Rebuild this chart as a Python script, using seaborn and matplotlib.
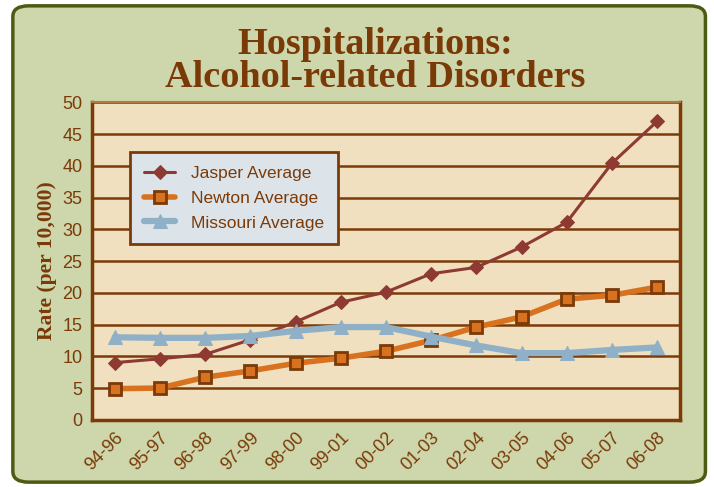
import pandas as pd
import numpy as np
import matplotlib.pyplot as plt
import seaborn as sns
from matplotlib.patches import FancyBboxPatch

# datos
periodos = ['94-96', '95-97', '96-98', '97-99', '98-00', '99-01', '00-02',
            '01-03', '02-04', '03-05', '04-06', '05-07', '06-08']
jasper = [9.0, 9.6, 10.3, 12.6, 15.4, 18.5, 20.1, 23.0, 24.0, 27.2, 31.1, 40.4, 47.0]
newton = [4.9, 5.0, 6.7, 7.7, 8.9, 9.7, 10.8, 12.5, 14.6, 16.2, 19.0, 19.6, 20.9]
missouri = [13.0, 12.9, 12.9, 13.2, 14.0, 14.6, 14.6, 13.1, 11.7, 10.5, 10.5, 11.0, 11.4]

marron = '#7B3A08'
fondo = '#CED6AC'

df = pd.DataFrame({
    'x': list(range(len(periodos))) * 3,
    'valor': jasper + newton + missouri,
    'serie': ['Jasper Average'] * 13 + ['Newton Average'] * 13 + ['Missouri Average'] * 13,
})

sns.set_style('white')
plt.rcParams['font.family'] = ['Liberation Sans', 'DejaVu Sans']

fig = plt.figure(figsize=(7.14, 4.87), dpi=100)
fig.patch.set_facecolor('white')

# marco verde redondeado
marco = FancyBboxPatch((0.018, 0.01), 0.97, 0.978, boxstyle='round,pad=0,rounding_size=0.022',
                       transform=fig.transFigure, facecolor=fondo, edgecolor='#4C5B12',
                       linewidth=2.5, zorder=-10)
fig.patches.append(marco)

ax = fig.add_axes([0.129, 0.138, 0.823, 0.652])
ax.set_facecolor('#F0E0BF')

estilos = {
    'Jasper Average': dict(color='#8E3A33', marker='D', markersize=7, linewidth=2.2,
                           markeredgecolor='#8E3A33'),
    'Newton Average': dict(color='#D8721E', marker='s', markersize=8, linewidth=4,
                           markeredgecolor=marron, markeredgewidth=2),
    'Missouri Average': dict(color='#8FB0C6', marker='^', markersize=10, linewidth=4.5,
                             markeredgecolor='#8FB0C6'),
}
for nombre in ['Jasper Average', 'Newton Average', 'Missouri Average']:
    sub = df[df['serie'] == nombre]
    sns.lineplot(data=sub, x='x', y='valor', ax=ax, label=nombre, zorder=3, **estilos[nombre])

ax.set_xlim(-0.5, len(periodos) - 0.5)
ax.set_ylim(0, 50)
ax.set_yticks(np.arange(0, 51, 5))
ax.yaxis.grid(True, color=marron, linewidth=1.8)
ax.set_axisbelow(True)

ax.set_xticks(range(len(periodos)))
ax.set_xticklabels(periodos, rotation=45, ha='right', rotation_mode='anchor')
ax.set_xticks(np.arange(-0.5, len(periodos)), minor=True)
ax.tick_params(axis='x', which='major', length=0, labelsize=13, colors=marron, pad=7)
ax.tick_params(axis='x', which='minor', length=5, width=1, color=marron, direction='out')
ax.tick_params(axis='y', length=5, width=1.5, color=marron, labelsize=13, labelcolor=marron, pad=2)

for lado in ['left', 'bottom', 'right']:
    ax.spines[lado].set_color(marron)
    ax.spines[lado].set_linewidth(2.5)
ax.spines['top'].set_color('#B07A40')
ax.spines['top'].set_linewidth(1.5)

ax.set_xlabel('')
ax.set_ylabel('Rate (per 10,000)', family=['Liberation Serif', 'DejaVu Serif'], fontweight='bold',
              fontsize=15.5, color=marron, labelpad=4)

leg = ax.legend(loc='upper left', bbox_to_anchor=(0.065, 0.843), fontsize=12.5, frameon=True,
                fancybox=False, handlelength=1.8, borderpad=0.8, labelspacing=0.55,
                handletextpad=0.9, borderaxespad=0)
leg.get_frame().set_facecolor('#DCE4EA')
leg.get_frame().set_edgecolor(marron)
leg.get_frame().set_linewidth(2)
leg.get_frame().set_alpha(1)
for t in leg.get_texts():
    t.set_color(marron)

fig.text(0.525, 0.945, 'Hospitalizations:\nAlcohol-related Disorders', ha='center', va='top',
         family=['Liberation Serif', 'DejaVu Serif'], fontweight='bold', fontsize=27.5,
         color='#7A3A08', linespacing=0.95)

plt.savefig('out.png', dpi=100, facecolor=fig.get_facecolor())
